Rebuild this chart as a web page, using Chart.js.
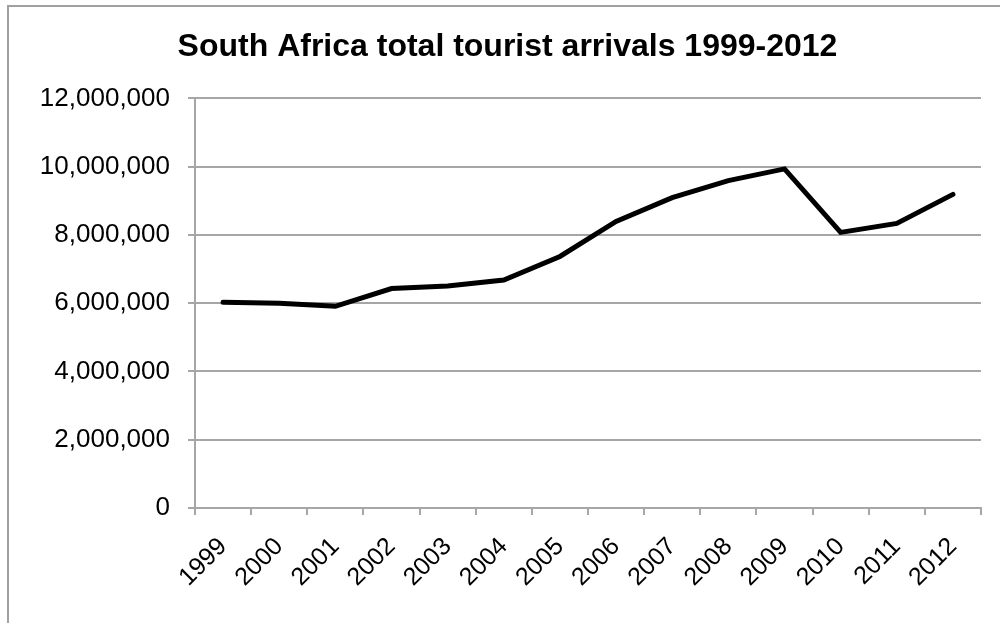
<!DOCTYPE html>
<html>
<head>
<meta charset="utf-8">
<script src="https://cdn.jsdelivr.net/npm/chart.js@4"></script>
<style>
  body { margin: 0; background: #fff; overflow: hidden; }
  #marco {
    position: absolute; left: 7px; top: 5px; width: 1100px; height: 700px;
    border-top: 2px solid #a0a0a0; border-left: 2px solid #a0a0a0;
  }
  canvas { position: absolute; left: 0; top: 0; }
</style>
</head>
<body>
<div id="marco"></div>
<canvas id="graficoTuristas" width="1000" height="623"></canvas>
<script>
const anos = ['1999', '2000', '2001', '2002', '2003', '2004', '2005', '2006', '2007', '2008', '2009', '2010', '2011', '2012']
const chegadas = [6026000, 6001000, 5908000, 6430000, 6505000, 6678000, 7369000, 8396000, 9091000, 9592000, 9934000, 8074000, 8339000, 9188000]
const ticksY = [0, 2000000, 4000000, 6000000, 8000000, 10000000, 12000000]

const fonte = 'Liberation Sans, Arial, sans-serif'
const cinza = '#a6a6a6'

const graficoTuristas = document.getElementById('graficoTuristas')

const grafico = new Chart(graficoTuristas, {
  type: 'line',
  data: {
    labels: anos,
    datasets: [{
      label: 'Tourist arrivals',
      data: chegadas,
      borderColor: '#000',
      borderWidth: 5,
      borderCapStyle: 'round',
      pointRadius: 0,
      tension: 0,
      fill: false
    }]
  },
  options: {
    responsive: false,
    animation: false,
    // padding esquerda so para centrar o titulo como no original
    layout: { padding: { left: 34, right: 19, top: 0, bottom: 0 } },
    plugins: {
      legend: { display: false },
      tooltip: { enabled: false },
      title: {
        display: true,
        text: 'South Africa total tourist arrivals 1999-2012',
        color: '#000',
        font: { family: fonte, size: 32, weight: 'bold' },
        padding: { top: 28, bottom: 32 }
      }
    },
    scales: {
      x: {
        offset: true,
        grid: { display: true, offset: true, drawOnChartArea: false, drawTicks: true, tickLength: 7, color: cinza, lineWidth: 2 },
        border: { display: true, color: cinza, width: 2 },
        ticks: {
          color: '#000',
          font: { family: fonte, size: 25 },
          minRotation: 45,
          maxRotation: 45,
          padding: 17,
          autoSkip: false
        },
        afterFit: escala => { escala.height = 115 }
      },
      y: {
        min: 0,
        max: 12000000,
        afterBuildTicks: escala => { escala.ticks = ticksY.map(v => ({ value: v })) },
        grid: { color: cinza, lineWidth: 2, tickLength: 7 },
        border: { display: true, color: cinza, width: 2 },
        ticks: {
          color: '#000',
          font: { family: fonte, size: 26 },
          padding: 18,
          callback: valor => valor.toLocaleString('en-US')
        },
        afterFit: escala => { escala.width = 161 }
      }
    }
  }
})
</script>
</body>
</html>
